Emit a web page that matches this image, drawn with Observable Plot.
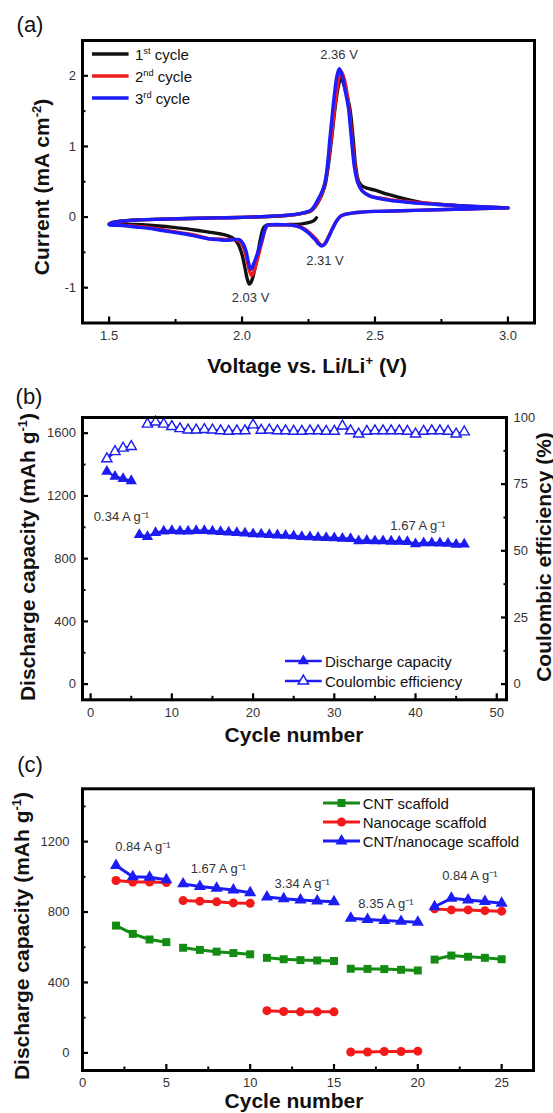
<!DOCTYPE html>
<html>
<head>
<meta charset="utf-8">
<script src="https://cdn.jsdelivr.net/npm/d3@7"></script>
<script src="https://cdn.jsdelivr.net/npm/@observablehq/plot@0.6"></script>
<style>
html,body{margin:0;padding:0;background:#fff;}
#wrap{position:relative;width:553px;height:1113px;overflow:hidden;font-family:"Liberation Sans",Arial,sans-serif;color:#111;}
.abs{position:absolute;white-space:nowrap;line-height:1;}
.panel{position:absolute;left:0;}
.plab{font-size:22px;transform:translate(-50%,-50%);}
.ttl{font-size:21px;font-weight:bold;transform:translate(-50%,-50%);}
.ttl.rot{transform:translate(-50%,-50%) rotate(-90deg);}
.leg{font-size:15px;transform:translateY(-50%);color:#111;}
sup{font-size:0.62em;vertical-align:0.6em;line-height:0;}
.sw{position:absolute;overflow:visible;}
</style>
</head>
<body>
<div id="wrap"></div>
<script>
// ================= Panel (a): cyclic voltammetry =================
const cvLabels = ["1<sup>st</sup> cycle", "2<sup>nd</sup> cycle", "3<sup>rd</sup> cycle"];
const cvColors = ["#111111", "#ee1c1c", "#1c1cff"];

const cycle1V = [2.28, 2.27, 2.25, 2.22, 2.18, 2.14, 2.10, 2.09, 2.08, 2.07, 2.06, 2.05, 2.04, 2.033, 2.027, 2.02, 2.01, 2.00, 1.985, 1.97, 1.95, 1.92, 1.89, 1.85, 1.80, 1.75, 1.70, 1.65, 1.60, 1.55, 1.50, 1.52, 1.55, 1.60, 1.70, 1.80, 1.90, 2.00, 2.10, 2.15, 2.20, 2.23, 2.26, 2.285, 2.31, 2.335, 2.35, 2.362, 2.372, 2.385, 2.405, 2.418, 2.428, 2.439, 2.452, 2.47, 2.50, 2.55, 2.62, 2.685, 2.75, 2.82, 2.90, 3.00];
const cycle1I = [-0.01, -0.05, -0.08, -0.10, -0.105, -0.11, -0.11, -0.12, -0.16, -0.30, -0.50, -0.70, -0.86, -0.93, -0.95, -0.88, -0.70, -0.53, -0.38, -0.31, -0.27, -0.24, -0.22, -0.20, -0.17, -0.15, -0.13, -0.115, -0.105, -0.10, -0.095, -0.07, -0.055, -0.04, -0.03, -0.02, -0.012, -0.005, 0.008, 0.018, 0.035, 0.055, 0.09, 0.2, 0.42, 1.05, 1.55, 1.85, 1.97, 1.85, 1.55, 1.1, 0.7, 0.5, 0.44, 0.41, 0.38, 0.32, 0.25, 0.2, 0.18, 0.156, 0.14, 0.13];

const cycle2V = [3.00, 2.90, 2.80, 2.70, 2.60, 2.50, 2.45, 2.42, 2.39, 2.37, 2.355, 2.34, 2.325, 2.312, 2.303, 2.292, 2.28, 2.265, 2.25, 2.235, 2.22, 2.20, 2.17, 2.13, 2.10, 2.093, 2.085, 2.077, 2.066, 2.055, 2.046, 2.036, 2.028, 2.018, 2.006, 1.99, 1.97, 1.94, 1.91, 1.88, 1.85, 1.80, 1.75, 1.70, 1.65, 1.60, 1.55, 1.50, 1.52, 1.55, 1.60, 1.70, 1.80, 1.90, 2.00, 2.10, 2.15, 2.20, 2.23, 2.26, 2.285, 2.31, 2.335, 2.35, 2.362, 2.372, 2.385, 2.40, 2.413, 2.425, 2.437, 2.452, 2.48, 2.55, 2.62, 2.685, 2.75, 2.82, 2.90, 3.00];
const cycle2I = [0.13, 0.12, 0.11, 0.1, 0.09, 0.08, 0.07, 0.06, 0.04, 0.01, -0.06, -0.16, -0.28, -0.37, -0.40, -0.38, -0.32, -0.26, -0.21, -0.17, -0.14, -0.12, -0.11, -0.11, -0.115, -0.13, -0.2, -0.32, -0.48, -0.64, -0.76, -0.83, -0.76, -0.6, -0.43, -0.34, -0.32, -0.32, -0.31, -0.31, -0.28, -0.24, -0.21, -0.18, -0.15, -0.13, -0.115, -0.105, -0.075, -0.055, -0.042, -0.03, -0.02, -0.012, -0.005, 0.008, 0.018, 0.035, 0.055, 0.095, 0.21, 0.45, 1.1, 1.6, 1.92, 2.07, 1.95, 1.62, 1.15, 0.72, 0.48, 0.37, 0.3, 0.25, 0.22, 0.2, 0.18, 0.16, 0.145, 0.13];

const cycle3V = [3.00, 2.90, 2.80, 2.70, 2.60, 2.50, 2.45, 2.42, 2.39, 2.37, 2.355, 2.34, 2.325, 2.312, 2.300, 2.288, 2.275, 2.26, 2.245, 2.23, 2.215, 2.195, 2.17, 2.13, 2.10, 2.093, 2.085, 2.077, 2.065, 2.052, 2.042, 2.033, 2.024, 2.015, 2.003, 1.99, 1.97, 1.94, 1.91, 1.88, 1.85, 1.80, 1.75, 1.70, 1.65, 1.60, 1.55, 1.50, 1.52, 1.55, 1.60, 1.70, 1.80, 1.90, 2.00, 2.10, 2.15, 2.20, 2.23, 2.26, 2.283, 2.31, 2.332, 2.345, 2.357, 2.366, 2.378, 2.39, 2.40, 2.41, 2.423, 2.435, 2.452, 2.48, 2.55, 2.62, 2.685, 2.75, 2.82, 2.90, 3.00];
const cycle3I = [0.13, 0.12, 0.11, 0.1, 0.09, 0.08, 0.07, 0.06, 0.04, 0.01, -0.06, -0.17, -0.29, -0.38, -0.41, -0.38, -0.32, -0.26, -0.21, -0.17, -0.14, -0.12, -0.11, -0.105, -0.11, -0.12, -0.18, -0.29, -0.44, -0.58, -0.68, -0.74, -0.64, -0.48, -0.37, -0.32, -0.32, -0.33, -0.32, -0.31, -0.29, -0.25, -0.22, -0.19, -0.16, -0.14, -0.12, -0.11, -0.075, -0.055, -0.042, -0.03, -0.02, -0.012, -0.005, 0.01, 0.02, 0.038, 0.06, 0.1, 0.23, 0.46, 1.17, 1.65, 2.0, 2.1, 1.98, 1.75, 1.55, 1.17, 0.7, 0.49, 0.37, 0.3, 0.24, 0.21, 0.19, 0.175, 0.16, 0.145, 0.13];

const peakLabelsA = ["2.36 V", "2.31 V", "2.03 V"];
const peakLabelV = [2.365, 2.312, 2.032];
const peakLabelI = [2.30, -0.62, -1.14];

const xTicksA = [1.5, 2.0, 2.5, 3.0], xMinorA = [1.75, 2.25, 2.75];
const yTicksA = [-1, 0, 1, 2], yMinorA = [-0.5, 0.5, 1.5];

// ================= Panel (b): cycling at 1.67 A/g =================
const cycleB = [2, 3, 4, 5, 6, 7, 8, 9, 10, 11, 12, 13, 14, 15, 16, 17, 18, 19, 20, 21, 22, 23, 24, 25, 26, 27, 28, 29, 30, 31, 32, 33, 34, 35, 36, 37, 38, 39, 40, 41, 42, 43, 44, 45, 46];
const dischargeB = [1356, 1324, 1309, 1296, 952, 940, 965, 975, 978, 975, 975, 978, 978, 975, 972, 968, 965, 962, 957, 955, 952, 950, 947, 944, 940, 938, 935, 933, 931, 929, 927, 912, 915, 913, 912, 910, 909, 908, 893, 900, 900, 899, 897, 890, 892];
const ceCycleB = [2, 3, 4, 5, 7, 8, 9, 10, 11, 12, 13, 14, 15, 16, 17, 18, 19, 20, 21, 22, 23, 24, 25, 26, 27, 28, 29, 30, 31, 32, 33, 34, 35, 36, 37, 38, 39, 40, 41, 42, 43, 44, 45, 46];
const ceB = [84.5, 87.2, 88.5, 89.1, 97.5, 98.3, 97.5, 96.6, 95.8, 95.3, 95.3, 95.5, 95.3, 95.0, 94.8, 95.0, 95.0, 97.2, 95.2, 95.3, 95.0, 95.0, 94.8, 94.8, 95.0, 95.0, 94.8, 94.8, 96.8, 95.0, 93.8, 94.8, 95.0, 95.0, 95.0, 95.0, 94.8, 93.8, 94.8, 95.0, 95.0, 94.8, 93.8, 94.6];
const rateStartB = 6;            // first cycle of the 1.67 A/g section
const rateLabelsB = ["0.34 A g⁻¹", "1.67 A g⁻¹"];
const rateLabelCycleB = [3.8, 40.3];
const rateLabelCapB = [1069, 1011];
const seriesB = ["Discharge capacity", "Coulombic efficiency"];
const xTicksB = [0, 10, 20, 30, 40, 50], xMinorB = [5, 15, 25, 35, 45];
const yTicksB = [0, 400, 800, 1200, 1600], yMinorB = [200, 600, 1000, 1400];
const ceTicksB = [0, 25, 50, 75, 100], ceMinorB = [12.5, 37.5, 62.5, 87.5];
const capMaxB = 1700, ceMaxB = 100;

// ================= Panel (c): rate capability =================
const seriesC = ["CNT scaffold", "Nanocage scaffold", "CNT/nanocage scaffold"];
const colorsC = ["#148c14", "#f21a1a", "#1c1cf5"];
const symbolsC = ["square", "circle", "triangle"];
const cycleC = [2, 3, 4, 5, 6, 7, 8, 9, 10, 11, 12, 13, 14, 15, 16, 17, 18, 19, 20, 21, 22, 23, 24, 25];
const stepC = [1, 1, 1, 1, 2, 2, 2, 2, 2, 3, 3, 3, 3, 3, 4, 4, 4, 4, 4, 5, 5, 5, 5, 5];
const cntC = [723, 676, 644, 629, 597, 585, 575, 567, 560, 540, 532, 527, 525, 522, 478, 477, 476, 472, 468, 530, 553, 546, 540, 532];
const nanoC = [979, 970, 970, 968, 865, 862, 858, 852, 850, 240, 235, 233, 233, 233, 5, 5, 8, 8, 10, 818, 812, 812, 808, 805];
const bothC = [1065, 1001, 997, 983, 960, 945, 935, 925, 910, 885, 875, 868, 863, 858, 765, 758, 752, 747, 742, 830, 878, 868, 860, 850];
const rateLabelsC = ["0.84 A g⁻¹", "1.67 A g⁻¹", "3.34 A g⁻¹", "8.35 A g⁻¹", "0.84 A g⁻¹"];
const rateLabelCycleC = [3.6, 8.1, 13.1, 18.1, 23.1];
const rateLabelCapC = [1170, 1045, 960, 848, 1005];
const xTicksC = [0, 5, 10, 15, 20, 25], xMinorC = [2.5, 7.5, 12.5, 17.5, 22.5];
const yTicksC = [0, 400, 800, 1200], yMinorC = [200, 600, 1000, 1400];

// ================= helpers =================
const wrap = document.getElementById("wrap");
const FONT = '"Liberation Sans", Arial, sans-serif';
const plotStyle = {fontFamily: FONT, fontSize: "13px", background: "none", overflow: "visible", color: "#333"};

function bottomAxis(maj, min, pad, fmt) {
  return [
    Plot.axisX(maj, {tickSize: -6, strokeWidth: 2.2, stroke: "#000", fill: "none", label: null}),
    Plot.axisX(min, {tickSize: -3.5, strokeWidth: 2, stroke: "#000", fill: "none", label: null}),
    Plot.axisX(maj, {tickSize: 0, tickPadding: pad, fill: "#333", label: null, tickFormat: fmt})
  ];
}
function sideAxis(anchor, maj, min, pad, fmt) {
  return [
    Plot.axisY(maj, {anchor, tickSize: -6, strokeWidth: 2.2, stroke: "#000", fill: "none", label: null}),
    Plot.axisY(min, {anchor, tickSize: -3.5, strokeWidth: 2, stroke: "#000", fill: "none", label: null}),
    Plot.axisY(maj, {anchor, tickSize: 0, tickPadding: pad, fill: "#333", label: null, tickFormat: fmt})
  ];
}
function place(svg, top) {
  const d = document.createElement("div");
  d.className = "panel"; d.style.top = top + "px";
  d.appendChild(svg); wrap.appendChild(d);
}
function htext(cls, x, y, html) {
  const d = document.createElement("div");
  d.className = "abs " + cls; d.style.left = x + "px"; d.style.top = y + "px";
  d.innerHTML = html; wrap.appendChild(d);
}
function legendRow(o) {
  const w = o.x2 - o.x1;
  const svg = d3.select(wrap).append("svg").attr("class", "sw")
    .style("left", o.x1 + "px").style("top", (o.y - 10) + "px")
    .attr("width", w).attr("height", 20);
  svg.append("line").attr("x1", 0).attr("x2", w).attr("y1", 10).attr("y2", 10)
    .attr("stroke", o.color).attr("stroke-width", o.sw);
  if (o.sym) {
    const type = {square: d3.symbolSquare, circle: d3.symbolCircle, triangle: d3.symbolTriangle}[o.sym];
    svg.append("path").attr("d", d3.symbol(type, Math.PI * o.r * o.r)())
      .attr("transform", `translate(${w / 2},10)`)
      .attr("fill", o.filled ? o.color : "#fff").attr("stroke", o.color)
      .attr("stroke-width", o.filled ? 0 : 1.5);
  }
  htext("leg", o.textX, o.y, o.label);
}

// ================= draw panel (a) =================
const cvData = [[cycle1V, cycle1I], [cycle2V, cycle2I], [cycle3V, cycle3I]].map(([V, I], k) =>
  V.map((v, i) => ({v, i: I[i], k})));
const annA = peakLabelsA.map((t, j) => ({t, v: peakLabelV[j], i: peakLabelI[j]}));

const plotA = Plot.plot({
  width: 553, height: 380, marginTop: 40, marginBottom: 57.5, marginLeft: 82, marginRight: 19,
  style: plotStyle,
  x: {domain: [1.4, 3.1]},
  y: {domain: [-1.5, 2.5]},
  marks: [
    ...cvData.map((d, k) => Plot.line(d, {x: "v", y: "i", stroke: cvColors[k], strokeWidth: 3.4, curve: "catmull-rom"})),
    Plot.text(annA, {x: "v", y: "i", text: "t", fill: "#333", fontSize: 13}),
    ...bottomAxis(xTicksA, xMinorA, 7.6, d3.format(".1f")),
    ...sideAxis("left", yTicksA, yMinorA, 6.5, d => String(d)),
    Plot.frame({stroke: "#000", strokeWidth: 3})
  ]
});
place(plotA, 0);

// ================= draw panel (b) =================
const k = capMaxB / ceMaxB;
const disB = cycleB.map((c, j) => ({c, y: dischargeB[j], seg: c >= rateStartB ? 1 : 0}));
const effB = ceCycleB.map((c, j) => ({c, y: ceB[j] * k, seg: c >= rateStartB ? 1 : 0}));
const annB = rateLabelsB.map((t, j) => ({t, c: rateLabelCycleB[j], y: rateLabelCapB[j]}));
const blueB = "#1c1cf0";

const plotB = Plot.plot({
  width: 553, height: 380, marginTop: 37, marginBottom: 60.7, marginLeft: 82, marginRight: 47,
  style: plotStyle,
  x: {domain: [-1, 51.2]},
  y: {domain: [-100, capMaxB]},
  marks: [
    Plot.line(disB, {x: "c", y: "y", z: "seg", stroke: blueB, strokeWidth: 2.5}),
    Plot.line(effB, {x: "c", y: "y", z: "seg", stroke: blueB, strokeWidth: 2.5}),
    Plot.dot(disB, {x: "c", y: "y", symbol: "triangle", r: 4.2, fill: blueB}),
    Plot.dot(effB, {x: "c", y: "y", symbol: "triangle", r: 3.8, fill: "#fff", stroke: blueB, strokeWidth: 1.4}),
    Plot.text(annB, {x: "c", y: "y", text: "t", fill: "#333", fontSize: 13}),
    ...bottomAxis(xTicksB, xMinorB, 7.7, d => String(d)),
    ...sideAxis("left", yTicksB, yMinorB, 6.5, d => String(d)),
    ...sideAxis("right", ceTicksB.map(d => d * k), ceMinorB.map(d => d * k), 7, d => String(Math.round(d / k))),
    Plot.frame({stroke: "#000", strokeWidth: 3})
  ]
});
place(plotB, 380);

// ================= draw panel (c) =================
const valuesC = [cntC, nanoC, bothC];
const dataC = valuesC.map((vals, s) => cycleC.map((c, j) => ({c, y: vals[j], step: stepC[j], s})));
const annC = rateLabelsC.map((t, j) => ({t, c: rateLabelCycleC[j], y: rateLabelCapC[j]}));

const plotC = Plot.plot({
  width: 553, height: 353, marginTop: 28.3, marginBottom: 43, marginLeft: 82, marginRight: 20,
  style: plotStyle,
  x: {domain: [0, 26.9]},
  y: {domain: [-100, 1500]},
  marks: [
    ...dataC.map((d, s) => Plot.line(d, {x: "c", y: "y", z: "step", stroke: colorsC[s], strokeWidth: 3})),
    ...dataC.map((d, s) => Plot.dot(d, {x: "c", y: "y", symbol: symbolsC[s], r: 4.5, fill: colorsC[s]})),
    Plot.text(annC, {x: "c", y: "y", text: "t", fill: "#333", fontSize: 13}),
    ...bottomAxis(xTicksC, xMinorC, 7, d => String(d)),
    ...sideAxis("left", yTicksC, yMinorC, 13, d => String(d)),
    Plot.frame({stroke: "#000", strokeWidth: 3})
  ]
});
place(plotC, 760);

// ================= text: panel labels, axis titles =================
htext("plab", 30, 25, "(a)");
htext("plab", 29, 397, "(b)");
htext("plab", 30, 765, "(c)");

htext("ttl", 307, 365, "Voltage vs. Li/Li<sup>+</sup> (V)");
htext("ttl rot", 40.6, 187, "Current (mA cm<sup>-2</sup>)");

htext("ttl", 294, 734, "Cycle number");
htext("ttl rot", 26.5, 557, "Discharge capacity (mAh g<sup>-1</sup>)");
htext("ttl rot", 543, 557, "Coulombic efficiency (%)");

htext("ttl", 294, 1100, "Cycle number");
htext("ttl rot", 21, 936, "Discharge capacity (mAh g<sup>-1</sup>)");

// ================= legends =================
[54, 75.7, 98.3].forEach((y, j) => legendRow({x1: 91.7, x2: 128.3, y, color: cvColors[j], sw: 3.6, textX: 135, label: cvLabels[j]}));
[660.7, 680.7].forEach((y, j) => legendRow({x1: 285, x2: 321.7, y, color: blueB, sw: 2.5, sym: "triangle", r: j ? 3.8 : 4.2, filled: j === 0, textX: 325, label: seriesB[j]}));
[802.7, 821.7, 840.7].forEach((y, j) => legendRow({x1: 322.8, x2: 359.8, y, color: colorsC[j], sw: 3, sym: symbolsC[j], r: 4.5, filled: true, textX: 362.7, label: seriesC[j]}));
</script>
</body>
</html>
